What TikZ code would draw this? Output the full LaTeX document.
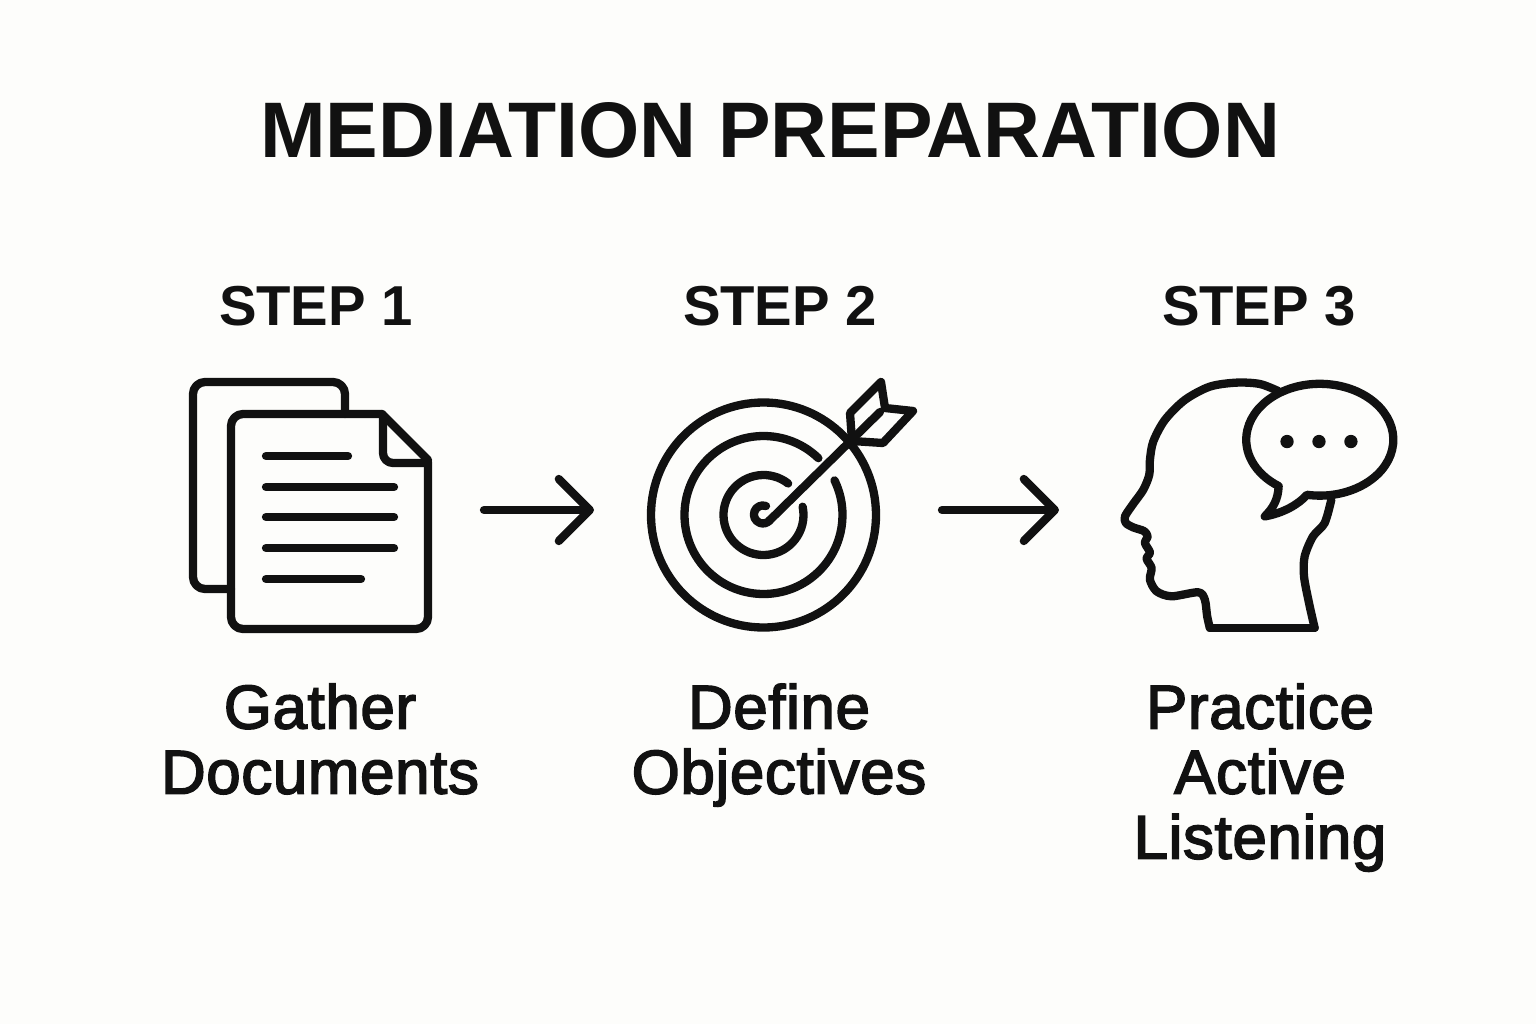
\documentclass[tikz,border=0pt]{standalone}
\usepackage{fontspec}
\setmainfont{Liberation Sans}
\newfontfamily\bodyface[FakeBold=2.6,LetterSpace=1]{Liberation Sans}
\usetikzlibrary{arrows.meta}
\definecolor{inkblack}{HTML}{111111}
\definecolor{paperwhite}{HTML}{FDFDFB}
\begin{document}
\begin{tikzpicture}[
  x=0.01cm,
  y=-0.01cm,
  iconline/.style={
    draw=inkblack,
    line width=0.083cm,
    line cap=round,
    line join=round
  },
  flowarrow/.style={
    iconline,
    -{Straight Barb[length=0.31cm,width=0.62cm,round]}
  },
  heading/.style={
    text=inkblack,
    inner sep=0pt,
    anchor=base,
    font=\fontsize{22.4}{26}\selectfont\bfseries
  },
  steplabel/.style={
    text=inkblack,
    inner sep=0pt,
    anchor=base,
    font=\fontsize{16}{19}\selectfont\bfseries
  },
  bodylabel/.style={
    text=inkblack,
    inner sep=0pt,
    anchor=north,
    align=center,
    font=\fontsize{17.6}{18.5}\selectfont\bodyface
  }
]
\fill[paperwhite] (0,0) rectangle (1536,1024);

\node[heading] (title) at (770,157) {MEDIATION PREPARATION};
\node[steplabel] (stepone) at (316,325) {STEP 1};
\node[steplabel] (steptwo) at (780,325) {STEP 2};
\node[steplabel] (stepthree) at (1259,325) {STEP 3};
\node[bodylabel] (gather) at (320,683) {Gather\\Documents};
\node[bodylabel] (define) at (779,683) {Define\\Objectives};
\node[bodylabel] (practice) at (1260,683) {Practice\\Active\\Listening};

\draw[iconline,rounded corners=0.12cm] (345,414) -- (345,382) -- (193,382) -- (193,589) -- (231,589);
\draw[iconline,rounded corners=0.12cm] (382,414) -- (231,414) -- (231,629) -- (428,629) -- (428,462);
\draw[iconline] (382,414) -- (428,460);
\draw[iconline,rounded corners=0.1cm] (383,416) -- (383,463) -- (426,463);
\draw[iconline] (266,456) -- (348,456);
\draw[iconline] (266,487) -- (394,487);
\draw[iconline] (266,517) -- (394,517);
\draw[iconline] (266,548) -- (394,548);
\draw[iconline] (266,579) -- (361,579);

\coordinate (gatherend) at (484,510);
\coordinate (definefront) at (594,510);
\coordinate (defineend) at (942,510);
\coordinate (practicefront) at (1059,510);
\draw[flowarrow] (gatherend) -- (definefront);
\draw[flowarrow] (defineend) -- (practicefront);

\draw[iconline] (763.5,515) circle[radius=112.5];
\draw[iconline] (763.5,515) ++(-46:79) arc (-46:-386:79);
\draw[iconline] (763.5,515) ++(-52:40) arc (-52:-372:40);
\draw[iconline] (766,506) arc (-70:-320:9);
\draw[iconline] (769,521) -- (880,412);
\draw[iconline] (852,441) -- (850,413) -- (881,382) -- (885,408) -- (913,411) -- (883,443) -- cycle;

\begin{scope}[shift={(1100,360)},x=0.00333cm,y=-0.00333cm]
\draw[iconline] plot[smooth,tension=.5] coordinates {(535,93) (480,72) (410,68) (330,80) (255,120) (195,180) (160,245) (150,300) (148,345) (130,390) (100,432) (75,470) (78,490) (100,503) (132,514) (143,530) (135,550) (150,578) (140,597) (155,625) (150,660) (170,695) (215,710) (295,698) (315,720) (322,770) (330,805)};
\draw[iconline] (330,805) -- (645,805);
\draw[iconline] plot[smooth,tension=.5] coordinates {(645,805) (628,730) (613,650) (615,590) (640,530) (675,490) (695,420)};
\draw[iconline,fill=paperwhite] (622,405) arc (100:-236:221 and 168) .. controls (535,420) and (520,445) .. (495,470) .. controls (550,460) and (595,435) .. (622,405) -- cycle;
\fill[inkblack] (562,245) circle[radius=20];
\fill[inkblack] (658,245) circle[radius=20];
\fill[inkblack] (754,245) circle[radius=20];
\end{scope}
\end{tikzpicture}
\end{document}
